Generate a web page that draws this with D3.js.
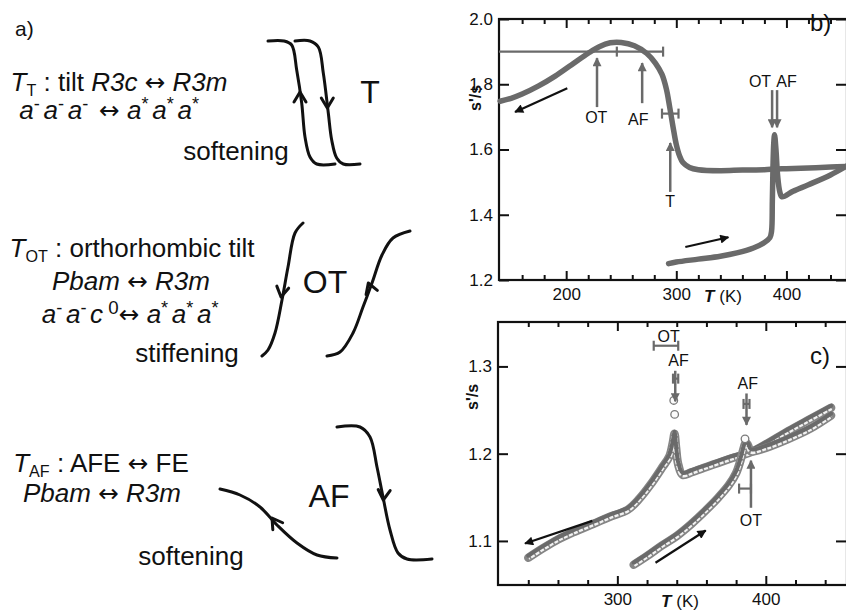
<!DOCTYPE html>
<html>
<head>
<meta charset="utf-8">
<script src="https://cdn.jsdelivr.net/npm/d3@7"></script>
<style>
  body { margin: 0; background: #fff; }
  svg { display: block; }
  text { white-space: pre; }
</style>
</head>
<body>
<div id="chart"></div>
<script>
// ---- data: temperature (K) and s'/s
// panel b
const bCoolT = [455, 440, 420, 400, 390, 380, 360, 340, 320, 312, 306, 303, 300, 297, 294, 291, 287, 281, 273, 262, 250, 240, 230, 220, 205, 190, 175, 160, 150, 140];
const bCoolS = [1.548, 1.546, 1.543, 1.541, 1.540, 1.538, 1.537, 1.535, 1.538, 1.545, 1.560, 1.580, 1.615, 1.670, 1.730, 1.785, 1.830, 1.865, 1.895, 1.918, 1.928, 1.927, 1.915, 1.895, 1.860, 1.825, 1.795, 1.770, 1.757, 1.748];
const bHeatT = [293, 300, 320, 340, 355, 370, 380, 385, 386.5, 387.2, 387.8, 388.5, 389.2, 390.5, 392, 394, 396, 406, 420, 440, 455];
const bHeatS = [1.250, 1.255, 1.264, 1.273, 1.283, 1.298, 1.315, 1.330, 1.350, 1.440, 1.550, 1.620, 1.645, 1.600, 1.520, 1.470, 1.455, 1.472, 1.492, 1.522, 1.550];
// panel c
const cCoolT = [444, 430, 415, 400, 390, 375, 360, 350, 344, 341, 339.5, 338.5, 337.5, 335, 330, 322, 315, 307, 295, 284, 270, 260, 250, 240];
const cCoolS = [1.255, 1.242, 1.228, 1.213, 1.204, 1.196, 1.187, 1.181, 1.178, 1.190, 1.210, 1.225, 1.216, 1.199, 1.186, 1.166, 1.151, 1.138, 1.130, 1.122, 1.112, 1.104, 1.094, 1.083];
const cHeatT = [311, 320, 330, 340, 350, 360, 368, 375, 380, 383, 385, 386.5, 388, 390, 400, 415, 430, 444];
const cHeatS = [1.075, 1.085, 1.097, 1.108, 1.122, 1.138, 1.152, 1.166, 1.180, 1.195, 1.208, 1.215, 1.212, 1.205, 1.209, 1.219, 1.231, 1.246];
const cSpikeT = [338, 338.6, 386];
const cSpikeS = [1.261, 1.245, 1.217];

// axes
const bMajor = [200, 300, 400], bMinor = [160, 180, 220, 240, 260, 280, 320, 340, 360, 380, 420, 440];
const bYTicks = [1.2, 1.4, 1.6, 1.8, 2.0];
const cMajor = [300, 400], cMinor = [240, 260, 280, 320, 340, 360, 380, 420, 440];
const cYTicks = [1.1, 1.2, 1.3];

// annotations (T, s'/s)
const bGrayArrows = [[228, 1.730, 1.880], [269, 1.742, 1.865], [294.5, 1.470, 1.620], [387, 1.782, 1.668], [391.5, 1.782, 1.668]];
const bGrayLabels = [[227.3, 1.681, "OT"], [265.5, 1.675, "AF"], [294.5, 1.424, "T"], [376, 1.792, "OT"], [400, 1.792, "AF"]];
const bBars = [[1.90, 139, 288, 246, false], [1.71, 287, 302, 295, true]];
const bBlackArrows = [[201, 1.788, 153.6, 1.715], [308.2, 1.301, 347.3, 1.331]];
const cGrayArrows = [[339, 1.295, 1.260], [387, 1.269, 1.233], [390, 1.138, 1.192]];
const cGrayLabels = [[334.5, 1.3284, "OT"], [341.2, 1.301, "AF"], [387.8, 1.2745, "AF"], [389.9, 1.1175, "OT"]];
const cBars = [[1.3237, 324.5, 341, null, true], [1.286, 337.5, 341, null, true], [1.257, 385, 389, null, true], [1.160, 382, 390, null, true]];
const cBlackArrows = [[283.1, 1.123, 237.8, 1.097], [325.7, 1.075, 359.5, 1.112]];

// schematic hysteresis sketches of panel a (drawing units = px)
const sketchT1 = [[268, 41], [284, 41], [291.7, 45], [296.7, 70], [301.7, 103], [305, 137], [310, 157], [316.7, 164], [335, 164]];
const sketchT2 = [[295, 41], [310, 41], [318.3, 47], [323.3, 73], [328.3, 113], [331.7, 140], [336.7, 158], [343.3, 164], [360, 164]];
const sketchOT1 = [[303, 223], [295, 233], [288, 267], [282, 300], [275, 333], [268, 350], [262, 356]];
const sketchOT2 = [[327, 356], [340, 352], [353, 333], [363, 307], [372, 283], [382, 255], [393, 238], [410, 231]];
const sketchAF1 = [[220, 489], [240, 495], [260, 507], [277, 525], [297, 543], [317, 555], [337, 558]];
const sketchAF2 = [[337, 427], [360, 427], [370, 437], [377, 467], [383, 497], [390, 530], [398, 553], [407, 559], [432, 559]];
// chevrons: tip x, tip y, direction (deg, 0 = right, 90 = down)
const sketchHeads = [[300, 92, -90], [327.3, 108, 90], [281, 297, 100], [368.3, 283, -110], [272, 518, -125], [383.3, 500, 95]];

const W = 846, H = 610;
const ink = "#111", gray = "#6a6a6a";

const svg = d3.select("#chart").append("svg")
    .attr("width", W).attr("height", H)
    .attr("font-family", "'Liberation Sans', Arial, sans-serif")
    .attr("fill", ink);

const defs = svg.append("defs");
function marker(id, color, w, h) {
    defs.append("marker").attr("id", id)
        .attr("viewBox", "0 0 10 10").attr("refX", 9).attr("refY", 5)
        .attr("markerWidth", w).attr("markerHeight", h)
        .attr("markerUnits", "userSpaceOnUse").attr("orient", "auto")
        .append("path").attr("d", "M0,0L10,5L0,10Z").attr("fill", color);
}
marker("headBlack", ink, 15, 9);
marker("headGray", gray, 11, 9);

// rich text with italic / sub / sup pieces; the arrow glyph comes from DejaVu
function rich(x, y, size, segs) {
    const t = svg.append("text").attr("x", x).attr("y", y)
        .attr("font-size", size).attr("text-anchor", "middle");
    let shift = 0;
    segs.forEach(s => {
        const off = s.sub ? size * 0.18 : s.sup ? -size * 0.34 : 0;
        const sp = t.append("tspan").attr("dy", off - shift).text(s.t);
        shift = off;
        if (s.i) sp.attr("font-style", "italic");
        if (s.sub || s.sup) sp.attr("font-size", size * (s.sz || 0.62));
        if (s.arrow) sp.attr("font-family", "'DejaVu Sans', sans-serif").attr("font-size", size * 0.95);
    });
    return t;
}
const LR = {t: "\u2194", arrow: 1};
const sp = {t: " "};
const minus = {t: "-\u2009", sup: 1, sz: 0.7};
const star = {t: "*\u2009", sup: 1, sz: 0.7};
const a = {t: "a", i: 1};

// ---------------- panel a
const fs = 26;
svg.append("text").attr("x", 15).attr("y", 36).attr("font-size", 21).text("a)");

rich(119, 91, fs, [{t: "T", i: 1}, {t: "T", sub: 1}, {t: " : tilt "}, {t: "R3c", i: 1}, sp, LR, sp, {t: "R3m", i: 1}]);
rich(111, 119, fs, [a, minus, a, minus, a, minus, sp, LR, sp, a, star, a, star, a, star]);
rich(236, 160, fs, [{t: "softening"}]);

rich(132, 257, fs, [{t: "T", i: 1}, {t: "OT", sub: 1}, {t: " : orthorhombic tilt"}]);
rich(131, 290, fs, [{t: "Pbam", i: 1}, sp, LR, sp, {t: "R3m", i: 1}]);
rich(132, 323, fs, [a, minus, a, minus, {t: "c", i: 1}, {t: " 0", sup: 1, sz: 0.72},
    LR, sp, a, star, a, star, a, star]);
rich(187, 362, fs, [{t: "stiffening"}]);

rich(101, 472, fs, [{t: "T", i: 1}, {t: "AF", sub: 1}, {t: " : AFE "}, LR, {t: " FE"}]);
rich(102, 502, fs, [{t: "Pbam", i: 1}, sp, LR, sp, {t: "R3m", i: 1}]);
rich(191, 565, fs, [{t: "softening"}]);

[[370, 103, "T"], [325, 293, "OT"], [329, 507, "AF"]].forEach(d =>
    svg.append("text").attr("x", d[0]).attr("y", d[1]).attr("font-size", 32)
        .attr("text-anchor", "middle").text(d[2]));

const sketchLine = d3.line().curve(d3.curveCatmullRom.alpha(0.5));
svg.append("g").attr("fill", "none").attr("stroke", ink).attr("stroke-width", 3)
    .attr("stroke-linecap", "round").attr("stroke-linejoin", "round")
    .selectAll("path")
    .data([sketchT1, sketchT2, sketchOT1, sketchOT2, sketchAF1, sketchAF2])
    .join("path").attr("d", sketchLine);

svg.append("g").attr("fill", "none").attr("stroke", ink).attr("stroke-width", 3)
    .attr("stroke-linecap", "round").attr("stroke-linejoin", "round")
    .selectAll("path").data(sketchHeads).join("path")
    .attr("transform", d => `translate(${d[0]},${d[1]}) rotate(${d[2]})`)
    .attr("d", "M-10,-6L0,0L-10,6");

// ---------------- data panels
function panel(cfg) {
    const x = d3.scaleLinear().domain(cfg.xDom).range([cfg.left, cfg.right]);
    const y = d3.scaleLinear().domain(cfg.yDom).range([cfg.bottom, cfg.top]);
    const g = svg.append("g");

    const tickStyle = sel => {
        sel.select(".domain").remove();
        sel.selectAll("line").attr("stroke", ink).attr("stroke-width", 2);
        sel.selectAll("text").attr("font-size", 17).attr("fill", ink)
            .attr("font-family", "'Liberation Sans', Arial, sans-serif");
    };
    const gB = g.append("g").attr("transform", `translate(0,${cfg.bottom})`);
    gB.append("g").call(d3.axisBottom(x).tickValues(cfg.minor).tickSize(-5).tickFormat("")).call(tickStyle);
    gB.append("g").call(d3.axisBottom(x).tickValues(cfg.major).tickSize(-9).tickPadding(8).tickFormat(d3.format("d"))).call(tickStyle);
    const gT = g.append("g").attr("transform", `translate(0,${cfg.top})`);
    gT.append("g").call(d3.axisTop(x).tickValues(cfg.minor).tickSize(-5).tickFormat("")).call(tickStyle);
    gT.append("g").call(d3.axisTop(x).tickValues(cfg.major).tickSize(-9).tickFormat("")).call(tickStyle);
    g.append("g").attr("transform", `translate(${cfg.left},0)`)
        .call(d3.axisLeft(y).tickValues(cfg.yTicks).tickSize(-10).tickPadding(6).tickFormat(d3.format(".1f"))).call(tickStyle);
    g.append("g").attr("transform", `translate(${cfg.right - 1},0)`)
        .call(d3.axisRight(y).tickValues(cfg.yTicks).tickSize(-10).tickFormat("")).call(tickStyle);

    g.append("rect").attr("x", cfg.left).attr("y", cfg.top)
        .attr("width", cfg.right - cfg.left).attr("height", cfg.bottom - cfg.top)
        .attr("fill", "none").attr("stroke", ink).attr("stroke-width", 2.2);

    // axis titles
    const xt = g.append("text").attr("x", cfg.xTitle[0]).attr("y", cfg.xTitle[1])
        .attr("font-size", 17).attr("text-anchor", "middle");
    xt.append("tspan").attr("font-style", "italic").attr("font-weight", "bold").text("T");
    xt.append("tspan").text(" (K)");
    g.append("text").attr("transform", `translate(${cfg.yTitle[0]},${cfg.yTitle[1]}) rotate(-90)`)
        .attr("font-size", 16).attr("font-weight", "bold").attr("text-anchor", "middle").text("s'/s");
    g.append("text").attr("x", cfg.tag[0]).attr("y", cfg.tag[1]).attr("font-size", 24).text(cfg.tag[2]);

    const plot = g.append("g");
    return {x, y, plot};
}

const seriesLine = d3.line().curve(d3.curveCatmullRom.alpha(0.5));

function drawSeries(p, T, S, beads) {
    const pts = T.map((t, i) => [p.x(t), p.y(S[i])]);
    const d = seriesLine(pts);
    if (beads) {
        // hollow band standing for the open data circles just under the fit
        p.plot.append("path").attr("d", d).attr("transform", "translate(0,2)")
            .attr("fill", "none").attr("stroke", "#858585").attr("stroke-width", 8.5)
            .attr("stroke-linejoin", "round").attr("stroke-linecap", "round");
        p.plot.append("path").attr("d", d).attr("transform", "translate(0,2)")
            .attr("fill", "none").attr("stroke", "#f2f2f2").attr("stroke-width", 5)
            .attr("stroke-dasharray", "4 1.5")
            .attr("stroke-linejoin", "round").attr("stroke-linecap", "butt");
    }
    p.plot.append("path").attr("d", d)
        .attr("fill", "none").attr("stroke", gray).attr("stroke-width", beads ? 4 : 5.5)
        .attr("stroke-linejoin", "round").attr("stroke-linecap", "round");
}

function annotate(p, arrows, labels, bars, blacks) {
    p.plot.append("g").selectAll("line").data(arrows).join("line")
        .attr("x1", d => p.x(d[0])).attr("x2", d => p.x(d[0]))
        .attr("y1", d => p.y(d[1])).attr("y2", d => p.y(d[2]))
        .attr("stroke", gray).attr("stroke-width", 2.5).attr("marker-end", "url(#headGray)");
    p.plot.append("g").selectAll("text").data(labels).join("text")
        .attr("x", d => p.x(d[0])).attr("y", d => p.y(d[1]))
        .attr("text-anchor", "middle").attr("font-size", 16).text(d => d[2]);
    const gb = p.plot.append("g").attr("stroke", gray).attr("stroke-width", 2.2).attr("fill", "none");
    bars.forEach(b => {
        const yy = p.y(b[0]), x0 = p.x(b[1]), x1 = p.x(b[2]);
        gb.append("line").attr("x1", x0).attr("x2", x1).attr("y1", yy).attr("y2", yy);
        gb.append("line").attr("x1", x1).attr("x2", x1).attr("y1", yy - 5).attr("y2", yy + 5);
        if (b[4]) gb.append("line").attr("x1", x0).attr("x2", x0).attr("y1", yy - 5).attr("y2", yy + 5);
        if (b[3] != null) gb.append("line").attr("x1", p.x(b[3])).attr("x2", p.x(b[3])).attr("y1", yy - 5).attr("y2", yy + 5);
    });
    p.plot.append("g").selectAll("line").data(blacks).join("line")
        .attr("x1", d => p.x(d[0])).attr("y1", d => p.y(d[1]))
        .attr("x2", d => p.x(d[2])).attr("y2", d => p.y(d[3]))
        .attr("stroke", ink).attr("stroke-width", 2.2).attr("marker-end", "url(#headBlack)");
}

const pb = panel({
    xDom: [139, 455], yDom: [1.2, 2.0], left: 499, right: 847, top: 19, bottom: 280,
    major: bMajor, minor: bMinor, yTicks: bYTicks,
    xTitle: [723, 302], yTitle: [481, 98], tag: [810, 31, "b)"]
});
drawSeries(pb, bCoolT, bCoolS, false);
drawSeries(pb, bHeatT, bHeatS, false);
annotate(pb, bGrayArrows, bGrayLabels, bBars, bBlackArrows);

const pc = panel({
    xDom: [219.6, 454.7], yDom: [1.0495, 1.3509], left: 498, right: 847, top: 322, bottom: 585,
    major: cMajor, minor: cMinor, yTicks: cYTicks,
    xTitle: [680, 607], yTitle: [478, 397], tag: [810, 364, "c)"]
});
drawSeries(pc, cCoolT, cCoolS, true);
drawSeries(pc, cHeatT, cHeatS, true);
pc.plot.append("g").selectAll("circle").data(cSpikeT).join("circle")
    .attr("cx", d => pc.x(d)).attr("cy", (d, i) => pc.y(cSpikeS[i])).attr("r", 3.8)
    .attr("fill", "#fbfbfb").attr("stroke", "#7a7a7a").attr("stroke-width", 1.3);
annotate(pc, cGrayArrows, cGrayLabels, cBars, cBlackArrows);
</script>
</body>
</html>
